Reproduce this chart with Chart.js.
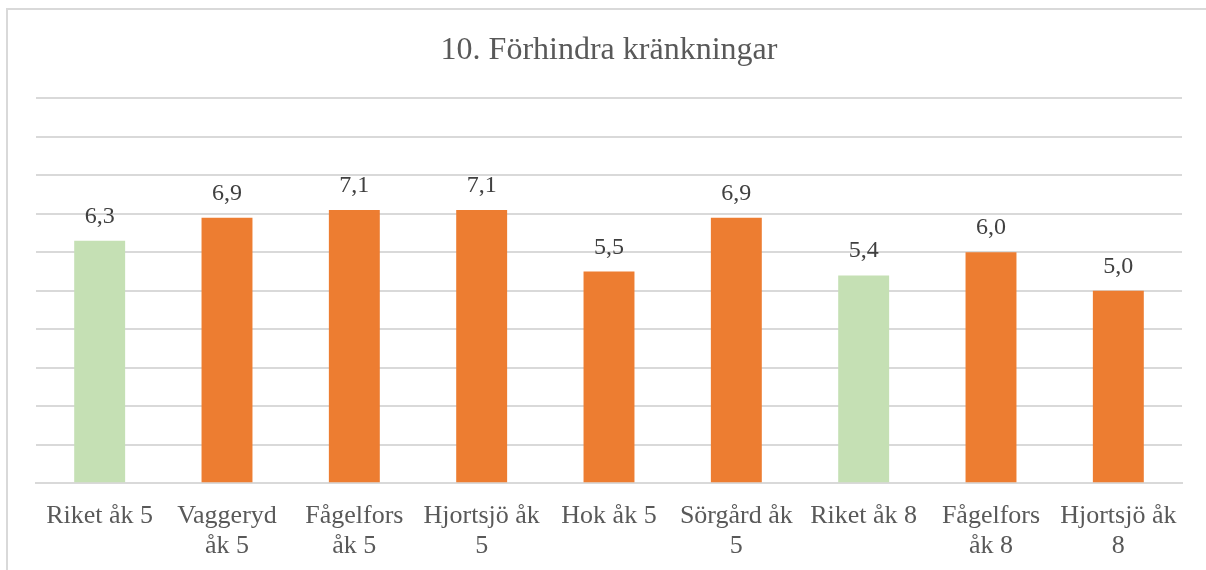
<!DOCTYPE html>
<html>
<head>
<meta charset="utf-8">
<script src="https://cdn.jsdelivr.net/npm/chart.js@4"></script>
<style>
  html, body { margin: 0; padding: 0; background: #fff; overflow: hidden; }
  #wrap { position: relative; width: 1206px; height: 570px; overflow: hidden; }
  #frame { position: absolute; left: 6px; top: 8px; width: 1260px; height: 600px;
           border-left: 2px solid #d9d9d9; border-top: 2px solid #d9d9d9; box-sizing: border-box; }
  canvas { position: absolute; left: 0; top: 0; }
</style>
</head>
<body>
<div id="wrap">
  <div id="frame"></div>
  <canvas id="chart" width="1206" height="579"></canvas>
</div>
<script>
// === DATA ===
const categories = [
  ['Riket åk 5'], ['Vaggeryd', 'åk 5'], ['Fågelfors', 'åk 5'], ['Hjortsjö åk', '5'],
  ['Hok åk 5'], ['Sörgård åk', '5'], ['Riket åk 8'], ['Fågelfors', 'åk 8'], ['Hjortsjö åk', '8']
];
const values = [6.3, 6.9, 7.1, 7.1, 5.5, 6.9, 5.4, 6.0, 5.0];
const isRiket = [true, false, false, false, false, false, true, false, false];

const GREEN = '#C5E0B4';
const ORANGE = '#ED7D31';
const SERIF = '"Liberation Serif", "Times New Roman", serif';

// value labels above bars
const valueLabels = {
  id: 'valueLabels',
  afterDatasetsDraw(chart) {
    const ctx = chart.ctx;
    const meta = chart.getDatasetMeta(0);
    ctx.save();
    ctx.font = '24px ' + SERIF;
    ctx.fillStyle = '#404040';
    ctx.textAlign = 'center';
    ctx.textBaseline = 'alphabetic';
    meta.data.forEach((bar, i) => {
      ctx.fillText(values[i].toFixed(1).replace('.', ','), bar.x, bar.y - 18);
    });
    ctx.restore();
  }
};

const el = document.getElementById('chart');
new Chart(el.getContext('2d'), {
  type: 'bar',
  data: {
    labels: categories,
    datasets: [{
      data: values,
      backgroundColor: isRiket.map(r => r ? GREEN : ORANGE),
      borderWidth: 0,
      categoryPercentage: 1,
      barPercentage: 0.4
    }]
  },
  options: {
    responsive: false,
    animation: false,
    layout: { padding: { left: 36, right: 24, top: 0, bottom: 0 } },
    plugins: {
      legend: { display: false },
      tooltip: { enabled: false },
      title: {
        display: true,
        text: '10. Förhindra kränkningar',
        color: '#595959',
        font: { family: SERIF, size: 32, weight: 'normal' },
        padding: { top: 31, bottom: 29 }
      }
    },
    scales: {
      x: {
        grid: { display: false, drawTicks: false },
        border: { color: '#d9d9d9', width: 2 },
        ticks: {
          color: '#595959',
          font: { family: SERIF, size: 26, lineHeight: 1.15 },
          maxRotation: 0,
          autoSkip: false,
          padding: 18
        }
      },
      y: {
        min: 0,
        max: 10,
        ticks: { display: false, stepSize: 1 },
        border: { display: false },
        grid: { color: '#d9d9d9', lineWidth: 2, drawTicks: false }
      }
    }
  },
  plugins: [valueLabels]
});
</script>
</body>
</html>
